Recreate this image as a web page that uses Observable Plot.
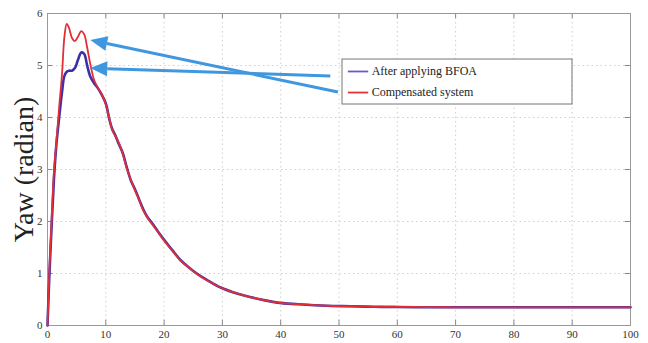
<!DOCTYPE html>
<html>
<head>
<meta charset="utf-8">
<script src="https://cdn.jsdelivr.net/npm/d3@7"></script>
<script src="https://cdn.jsdelivr.net/npm/@observablehq/plot@0.6"></script>
<style>
  html, body { margin: 0; padding: 0; background: #fff; }
</style>
</head>
<body>
<div id="chart"></div>
<script>
// ---- data ----
const time = [0,0.3,0.7,1.1,1.5,2,2.5,2.9,3.3,3.7,4.2,4.7,5.2,5.8,6.3,6.8,7.3,8,8.6,9.1,10,10.6,11.1,11.7,12.2,12.9,13.6,14.3,15,15.7,16.4,17.1,17.8,19,20,21.4,22.8,24.2,25.6,27.6,29.7,31.8,33.9,36.6,39.4,43,47.8,52,56,60,65,70,75,80,85,90,95,100];
const compensated = [0,1.0,2.0,2.95,3.5,4.2,4.85,5.55,5.8,5.72,5.53,5.47,5.55,5.66,5.6,5.35,5.05,4.72,4.58,4.49,4.25,3.98,3.76,3.63,3.52,3.3,3.02,2.8,2.6,2.42,2.22,2.08,1.97,1.79,1.63,1.44,1.25,1.12,0.99,0.85,0.73,0.64,0.57,0.5,0.44,0.41,0.38,0.37,0.36,0.36,0.355,0.35,0.35,0.35,0.35,0.35,0.35,0.35];
const bfoa = [0,0.9,1.9,2.8,3.45,4.0,4.5,4.8,4.88,4.9,4.9,4.95,5.1,5.25,5.22,5.0,4.8,4.66,4.57,4.48,4.27,3.97,3.78,3.64,3.5,3.32,3.04,2.79,2.62,2.43,2.24,2.09,1.99,1.8,1.65,1.45,1.26,1.12,1.0,0.86,0.73,0.64,0.57,0.5,0.44,0.41,0.38,0.37,0.36,0.355,0.35,0.35,0.35,0.35,0.35,0.35,0.35,0.35];
const seriesNames = ["After applying BFOA", "Compensated system"];
const xTicks = [0,10,20,30,40,50,60,70,80,90,100];
const yTicks = [0,1,2,3,4,5,6];
const yLabel = "Yaw (radian)";

// annotation anchors (data coordinates)
const arrows = [
  {x1: 49.9, y1: 4.48, x2: 7.42, y2: 5.48},
  {x1: 48.6, y1: 4.79, x2: 7.42, y2: 4.94}
];
const legendBox = {x1: 50.6, x2: 90.05, y1: 4.25, y2: 5.115};
const legendRows = [
  {name: seriesNames[0], y: 4.885, color: "#6b5bc8"},
  {name: seriesNames[1], y: 4.48, color: "#e0343a"}
];

const rows = (vals, name) => time.map((t, i) => ({t, v: vals[i], name}));
const red = rows(compensated, seriesNames[1]);
const blue = rows(bfoa, seriesNames[0]);

const serif = "'Liberation Serif', 'Times New Roman', serif";

const arrowMark = (index, scales) => {
  const g = d3.create("svg:g");
  for (const a of arrows) {
    const x1 = scales.x(a.x1), y1 = scales.y(a.y1);
    const x2 = scales.x(a.x2), y2 = scales.y(a.y2);
    const ang = Math.atan2(y2 - y1, x2 - x1);
    const L = 17, W = 7.5;
    const bx = x2 - L * Math.cos(ang), by = y2 - L * Math.sin(ang);
    g.append("line").attr("x1", x1).attr("y1", y1).attr("x2", bx).attr("y2", by)
      .attr("stroke", "#3f97e0").attr("stroke-width", 3);
    const px = -Math.sin(ang) * W, py = Math.cos(ang) * W;
    g.append("path")
      .attr("d", `M${x2},${y2}L${bx + px},${by + py}L${bx - px},${by - py}Z`)
      .attr("fill", "#3f97e0");
  }
  return g.node();
};

const chart = Plot.plot({
  width: 648,
  height: 343,
  marginLeft: 47,
  marginRight: 18,
  marginTop: 13,
  marginBottom: 18,
  style: {fontFamily: serif, background: "#fff"},
  x: {domain: [0, 100]},
  y: {domain: [0, 6]},
  marks: [
    Plot.gridX(xTicks, {stroke: "#bbb", strokeOpacity: 0.7, strokeDasharray: "1.5,3"}),
    Plot.gridY(yTicks, {stroke: "#bbb", strokeOpacity: 0.7, strokeDasharray: "1.5,3"}),
    // inward ticks
    Plot.ruleX(xTicks, {x: d => d, y1: 0, y2: 0.1, stroke: "#888"}),
    Plot.ruleX(xTicks, {x: d => d, y1: 5.9, y2: 6, stroke: "#888"}),
    Plot.ruleY(yTicks, {y: d => d, x1: 0, x2: 0.9, stroke: "#888"}),
    Plot.ruleY(yTicks, {y: d => d, x1: 99.1, x2: 100, stroke: "#888"}),
    Plot.frame({stroke: "#999"}),
    Plot.axisX(xTicks, {tickSize: 0, tickPadding: 5, fontSize: 11, fill: "#333", label: null, tickFormat: d => String(d), fontFamily: serif}),
    Plot.axisY(yTicks, {tickSize: 0, tickPadding: 5, fontSize: 11, fill: "#333", label: null, tickFormat: d => String(d), fontFamily: serif}),
    Plot.text([yLabel], {x: 0, y: 3, text: d => d, rotate: -90, dx: -23, fontSize: 28, fill: "#222", fontFamily: serif}),
    Plot.line(blue, {x: "t", y: "v", stroke: "#3b30a8", strokeWidth: 2.6, curve: "catmull-rom"}),
    Plot.line(red, {x: "t", y: "v", stroke: "#e22f36", strokeWidth: 1.8, curve: "catmull-rom"}),
    // legend
    Plot.rect([legendBox], {x1: "x1", x2: "x2", y1: "y1", y2: "y2", fill: "#fff", stroke: "#777", strokeWidth: 1}),
    Plot.ruleY(legendRows, {y: "y", x1: 51.6, x2: 55.1, stroke: "color", strokeWidth: 1.8}),
    Plot.text(legendRows, {x: 55.6, y: "y", text: "name", textAnchor: "start", fontSize: 12, fill: "#222", fontFamily: serif}),
    arrowMark
  ]
});
document.getElementById("chart").appendChild(chart);
</script>
</body>
</html>
